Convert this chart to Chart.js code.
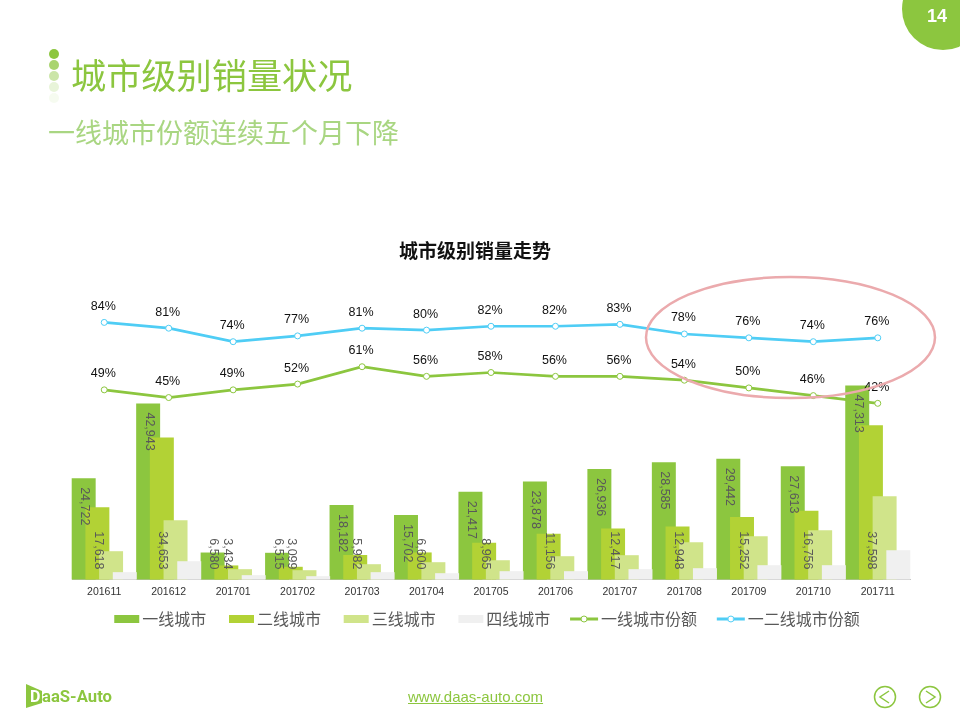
<!DOCTYPE html>
<html>
<head>
<meta charset="utf-8">
<title>城市级别销量状况</title>
<script src="https://cdn.jsdelivr.net/npm/chart.js@4/dist/chart.umd.min.js"></script>
<style>
  html, body { margin: 0; padding: 0; background: #fff; }
  #page { position: relative; width: 960px; height: 720px; overflow: hidden; font-family: "Noto Sans CJK SC", sans-serif; }
  #myChart { position: absolute; left: 0; top: 0; }
  #deco { position: absolute; left: 0; top: 0; }
  .head { position: absolute; white-space: nowrap; line-height: 1; }
  #h1 { left: 71px; top: 56px; font-size: 35.2px; color: #8cc63f; }
  #h2 { left: 48px; top: 118px; font-size: 27px; color: #a9d682; }
  #link { position: absolute; left: 408px; top: 688px; font: 15px "Liberation Sans", Arial, sans-serif; color: #8cc63f; text-decoration: underline; }
</style>
</head>
<body>
<div id="page">
  <canvas id="myChart" width="960" height="720"></canvas>
  <svg id="deco" width="960" height="720">
    <!-- vòng tròn hồng -->
    <ellipse cx="790.5" cy="337.5" rx="144.5" ry="60.5" fill="none" stroke="#ebaaad" stroke-width="2.5"/>
    <!-- số trang -->
    <circle cx="943" cy="9" r="41" fill="#8cc63f"/>
    <text x="937" y="22" text-anchor="middle" fill="#fff" font-family="Liberation Sans" font-weight="bold" font-size="18">14</text>
    <!-- chấm đầu đề -->
    <circle cx="54" cy="54" r="5" fill="#8cc63f"/>
    <circle cx="54" cy="65" r="5" fill="#8cc63f" opacity="0.75"/>
    <circle cx="54" cy="76" r="5" fill="#8cc63f" opacity="0.45"/>
    <circle cx="54" cy="87" r="5" fill="#8cc63f" opacity="0.2"/>
    <circle cx="54" cy="98" r="5" fill="#8cc63f" opacity="0.08"/>
    <!-- logo -->
    <polygon points="26,684 42,691 42,703 26,708" fill="#8cc63f"/>
    <text x="30" y="702" font-family="Roboto" font-weight="bold" font-size="16" fill="#fff">D</text>
    <text x="42" y="702" font-family="Roboto" font-weight="bold" font-size="17" textLength="70" lengthAdjust="spacingAndGlyphs" fill="#8cc63f">aaS-Auto</text>
    <!-- nút -->
    <circle cx="885" cy="697" r="10.5" fill="none" stroke="#8cc63f" stroke-width="1.5"/>
    <polyline points="889,691 880,697 889,703" fill="none" stroke="#8cc63f" stroke-width="1.5"/>
    <circle cx="930" cy="697" r="10.5" fill="none" stroke="#8cc63f" stroke-width="1.5"/>
    <polyline points="926,691 935,697 926,703" fill="none" stroke="#8cc63f" stroke-width="1.5"/>
  </svg>
  <div id="h1" class="head">城市级别销量状况</div>
  <div id="h2" class="head">一线城市份额连续五个月下降</div>
  <div id="link">www.daas-auto.com</div>
</div>
<script>
// Tháng
var months = ["201611","201612","201701","201702","201703","201704","201705","201706","201707","201708","201709","201710","201711"];
// Doanh số theo cấp thành phố
var city1 = [24722,42943,6580,6515,18182,15702,21417,23878,26936,28585,29442,27613,47313];
var city2 = [17618,34653,3434,3099,5982,6600,8965,11156,12417,12948,15252,16756,37598];
var city3 = [6900,14450,2520,2270,3730,4220,4700,5680,5930,9090,10550,12000,20290];
var city4 = [1790,4460,1060,810,1790,1540,2030,2030,2520,2760,3490,3490,7140];
// Tỷ lệ (%)
var share1 = [49,45,49,52,61,56,58,56,56,54,50,46,42];
var share12 = [84,81,74,77,81,80,82,82,83,78,76,74,76];

var seriesNames = ["一线城市","二线城市","三线城市","四线城市","一线城市份额","一二线城市份额"];
var colors = ["#8cc63f","#b2d235","#d0e48a","#f0f0f0","#8cc63f","#4fcdf5"];
var latin = '"Liberation Sans", Arial, sans-serif';
var cjk = '"Noto Sans CJK SC", sans-serif';

// Ô chú giải: ảnh rộng hơn ô để hình nằm sát chữ
function legendIcon(color, isLine){
  var c = document.createElement("canvas");
  c.width = 44;
  c.height = 12;
  var g = c.getContext("2d");
  if(isLine){
    g.fillStyle = color;
    g.fillRect(13, 4.5, 28, 3);
    g.beginPath();
    g.arc(27, 6, 3, 0, Math.PI*2);
    g.fillStyle = "#fff";
    g.fill();
    g.strokeStyle = color;
    g.lineWidth = 1;
    g.stroke();
  } else {
    g.fillStyle = color;
    g.fillRect(16, 2, 25, 8);
  }
  return c;
}

// Vẽ cột theo thứ tự để cột sau đè cột trước
var barOrder = {
  id: "barOrder",
  beforeDatasetDraw: function(chart, args){
    if(args.meta.type === "bar") return false;
  },
  beforeDatasetsDraw: function(chart){
    chart.getSortedVisibleDatasetMetas().forEach(function(meta){
      if(meta.type === "bar") meta.controller.draw();
    });
  }
};

// Dịch chú giải sang trái một chút
var legendShift = {
  id: "legendShift",
  afterLayout: function(chart){
    chart.legend.left -= 16;
  }
};

// Nhãn số
var valueLabels = {
  id: "valueLabels",
  afterDatasetsDraw: function(chart){
    var ctx = chart.ctx;
    var bottomLimit = chart.scales.x.top - 10;
    ctx.save();
    // nhãn cột xoay 90 độ
    ctx.font = "12.5px " + latin;
    ctx.fillStyle = "#595959";
    ctx.textBaseline = "middle";
    [0,1].forEach(function(ds){
      var values = chart.data.datasets[ds].data;
      chart.getDatasetMeta(ds).data.forEach(function(bar, i){
        var text = values[i].toLocaleString("en-US");
        var w = ctx.measureText(text).width;
        var start = bar.y + 9;
        if(ds === 1 || start + w > bottomLimit) start = bottomLimit - w;
        ctx.save();
        ctx.translate(bar.x + 1, start);
        ctx.rotate(Math.PI/2);
        ctx.textAlign = "left";
        ctx.fillText(text, 0, 0);
        ctx.restore();
      });
    });
    // nhãn phần trăm
    ctx.font = "12.5px " + latin;
    ctx.fillStyle = "#111";
    ctx.textAlign = "center";
    [4,5].forEach(function(ds){
      var values = chart.data.datasets[ds].data;
      chart.getDatasetMeta(ds).data.forEach(function(pt, i){
        ctx.fillText(values[i] + "%", pt.x - 1, pt.y - 16);
      });
    });
    ctx.restore();
  }
};

function barSet(i, values){
  return {
    type: "bar",
    label: seriesNames[i],
    backgroundColor: colors[i],
    data: values,
    yAxisID: "y",
    categoryPercentage: 0.85,
    barPercentage: 1.75
  };
}
function lineSet(i, values){
  return {
    type: "line",
    label: seriesNames[i],
    borderColor: colors[i],
    backgroundColor: colors[i],
    borderWidth: 2.7,
    pointRadius: 3,
    pointBorderWidth: 1,
    pointBackgroundColor: "#fff",
    pointBorderColor: colors[i],
    tension: 0,
    fill: false,
    data: values,
    yAxisID: "y1"
  };
}

new Chart(document.getElementById("myChart"), {
  type: "bar",
  data: {
    labels: months,
    datasets: [
      barSet(0, city1), barSet(1, city2), barSet(2, city3), barSet(3, city4),
      lineSet(4, share1), lineSet(5, share12)
    ]
  },
  plugins: [barOrder, legendShift, valueLabels],
  options: {
    responsive: false,
    animation: false,
    layout: { padding: { left: 40, right: 50, top: 239, bottom: 83 } },
    scales: {
      x: {
        grid: { display: false, drawTicks: false },
        border: { color: "#bfbfbf", width: 1 },
        ticks: { autoSkip: false, maxRotation: 0, color: "#333", font: { family: latin, size: 10.5, lineHeight: 1 }, padding: 7.3 },
        afterFit: function(axis){ axis.height = 16.8; }
      },
      y: {
        min: 0, max: 74069,
        grid: { display: false },
        border: { display: false },
        ticks: { display: false },
        afterFit: function(axis){ axis.width = 32; }
      },
      y1: {
        position: "right",
        display: false,
        min: -49.45, max: 108.2
      }
    },
    plugins: {
      tooltip: { enabled: false },
      title: {
        display: true,
        text: "城市级别销量走势",
        color: "#111",
        font: { family: cjk, size: 19, weight: "bold" },
        padding: { top: 0, bottom: 14 }
      },
      legend: {
        display: true,
        position: "bottom",
        fullSize: false,
        labels: {
          usePointStyle: true,
          pointStyleWidth: 28,
          padding: 14.7,
          color: "#595959",
          font: { family: cjk, size: 16 },
          generateLabels: function(chart){
            return chart.data.datasets.map(function(d, i){
              return {
                text: d.label,
                datasetIndex: i,
                fontColor: "#595959",
                pointStyle: legendIcon(colors[i], i > 3),
                lineWidth: 0,
                fillStyle: colors[i],
                strokeStyle: colors[i]
              };
            });
          }
        }
      }
    }
  }
});
</script>
</body>
</html>
